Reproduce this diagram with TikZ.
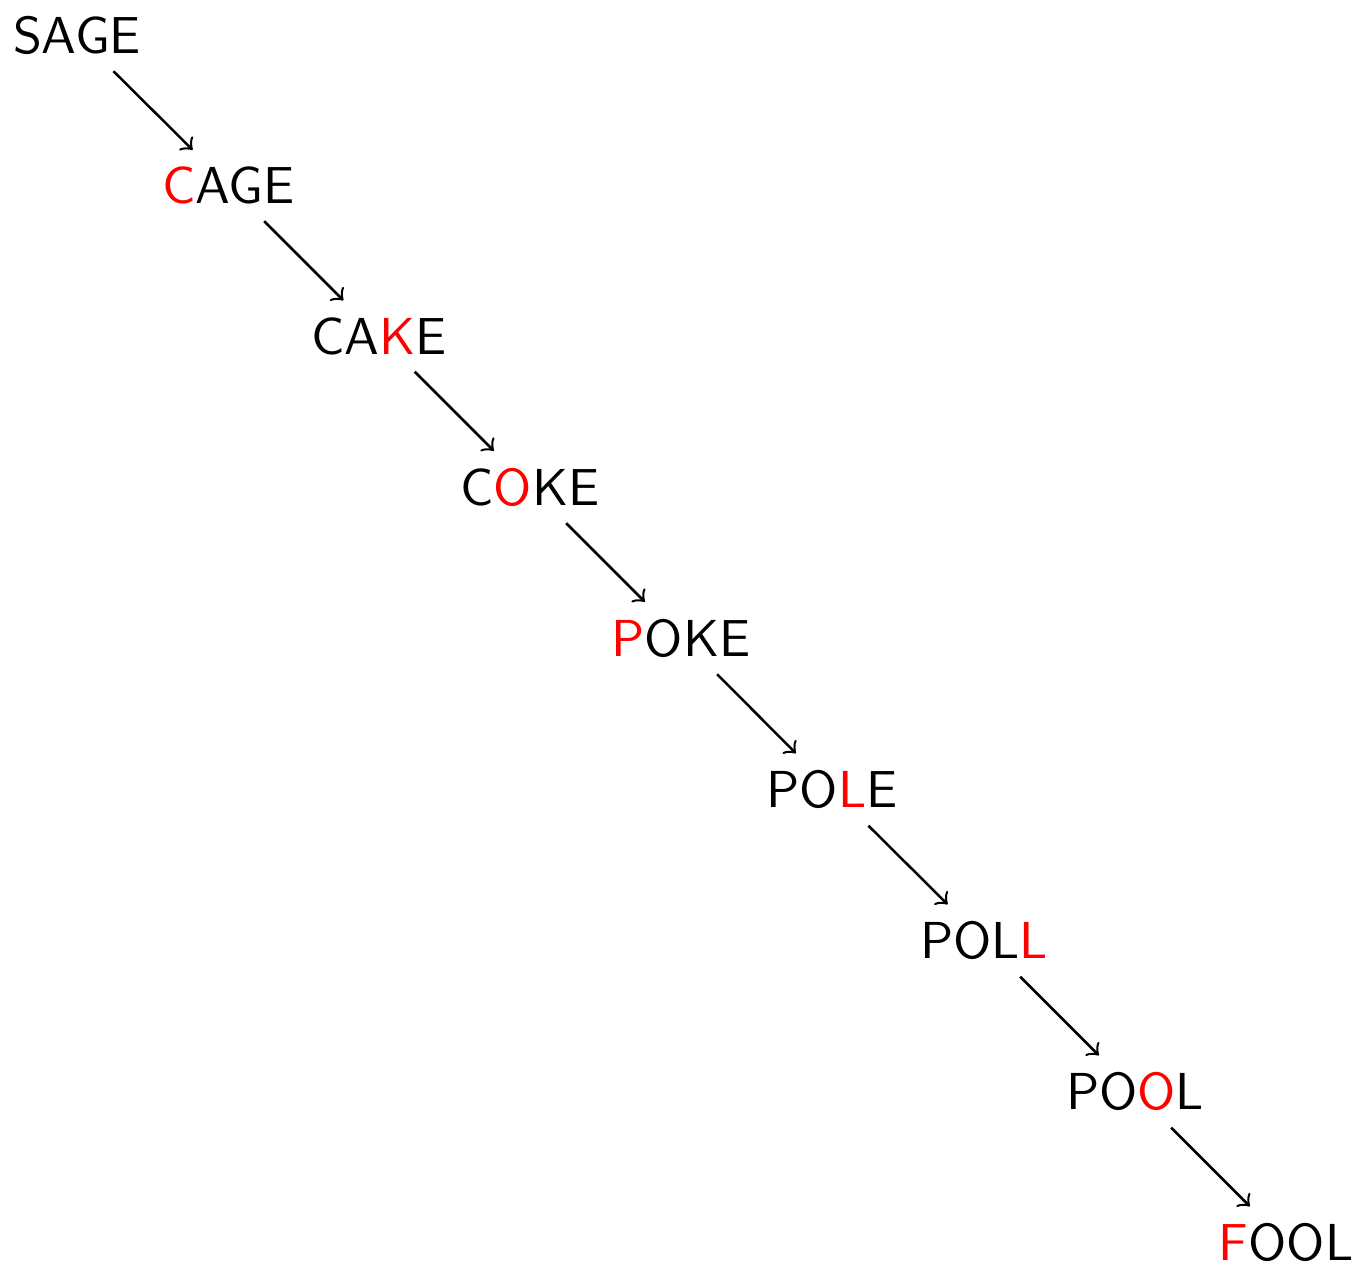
\documentclass[tikz,border=0pt]{standalone}
\usepackage{xcolor}
\newcommand\chg[1]{\textcolor{red}{#1}}
\begin{document}
\begin{tikzpicture}[x=0.2pt,y=-0.2pt,
  word/.style={font=\fontsize{10.4}{12}\sffamily, inner sep=3.2pt},
  link/.style={->, line width=0.5pt}]
\useasboundingbox (0,0) rectangle (1356,1267);
\node[word] (w0) at (77,35)     {SAGE};
\node[word] (w1) at (228.5,185.5) {\chg{C}AGE};
\node[word] (w2) at (379,336)   {CA\chg{K}E};
\node[word] (w3) at (530,487)   {C\chg{O}KE};
\node[word] (w4) at (681,638)   {\chg{P}OKE};
\node[word] (w5) at (832,789.5) {PO\chg{L}E};
\node[word] (w6) at (984,940.5) {POL\chg{L}};
\node[word] (w7) at (1135,1091.5) {PO\chg{O}L};
\node[word] (w8) at (1286,1242.5) {\chg{F}OOL};
\foreach \a/\b in {w0/w1,w1/w2,w2/w3,w3/w4,w4/w5,w5/w6,w6/w7,w7/w8}
  \draw[link] (\a) -- (\b);
\end{tikzpicture}
\end{document}
